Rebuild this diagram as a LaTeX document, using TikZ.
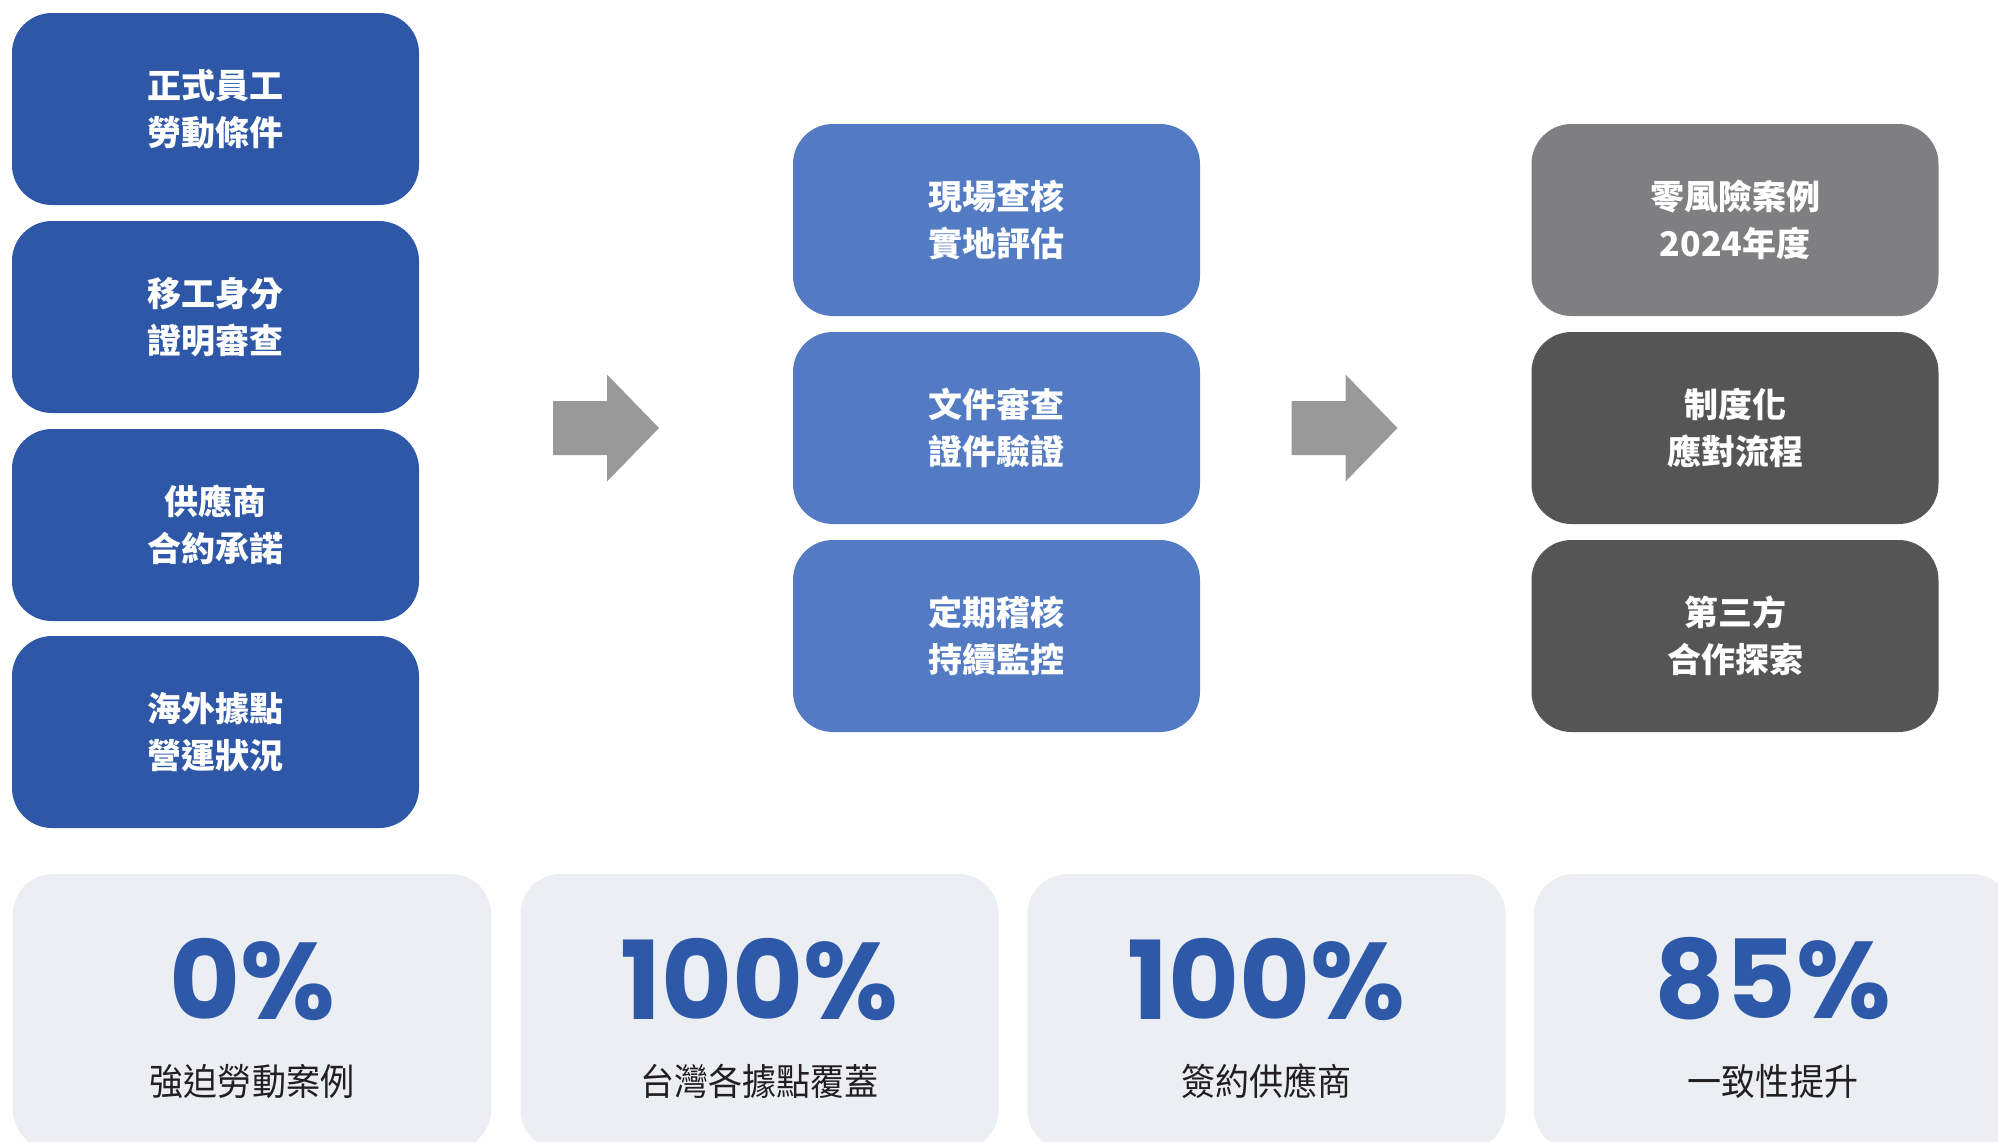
\documentclass[tikz,border=0pt]{standalone}
\usepackage{fontspec}
\newfontfamily\cjk{Noto Sans CJK TC}
\newfontfamily\cjknarrow{Noto Sans CJK TC}[FakeStretch=0.92]
\newfontfamily\pop{Poppins}
\definecolor{leftblue}{RGB}{46,88,167}
\definecolor{midblue}{RGB}{82,123,196}
\definecolor{lgray}{RGB}{127,126,128}
\definecolor{dgray}{RGB}{85,85,85}
\definecolor{arrowgray}{RGB}{153,153,153}
\definecolor{cardbg}{RGB}{235,239,243}
\definecolor{numblue}{RGB}{46,88,168}
\definecolor{labeltext}{RGB}{35,31,32}
\tikzset{
  stepbox/.style={rectangle, rounded corners=40pt, minimum width=407pt, minimum height=192pt,
    inner sep=0pt, align=center, text=white, font=\cjk\bfseries\fontsize{34}{47}\selectfont},
  leftbox/.style={stepbox, fill=leftblue},
  midbox/.style={stepbox, fill=midblue},
  topgray/.style={stepbox, fill=lgray},
  darkbox/.style={stepbox, fill=dgray},
  card/.style={rectangle, rounded corners=40pt, fill=cardbg, minimum width=478pt, minimum height=276pt, inner sep=0pt},
  bignum/.style={text=numblue, font=\pop\bfseries\fontsize{109}{109}\selectfont, inner sep=0pt},
  cardlabel/.style={text=labeltext, font=\cjknarrow\fontsize{37}{44}\selectfont, inner sep=0pt},
  blockarrow/.style={fill=arrowgray}
}
\begin{document}
\begin{tikzpicture}[x=1pt,y=-1pt]
\useasboundingbox (0,0) rectangle (1998,1141);
\fill[white] (0,0) rectangle (1998,1141);
\clip (0,0) rectangle (1998,1141);
% left column
\node[leftbox] (L1) at (215.5,109) {正式員工\\勞動條件};
\node[leftbox] (L2) at (215.5,317) {移工身分\\證明審查};
\node[leftbox] (L3) at (215.5,525) {供應商\\合約承諾};
\node[leftbox] (L4) at (215.5,732) {海外據點\\營運狀況};
% middle column
\node[midbox] (M1) at (996.5,220) {現場查核\\實地評估};
\node[midbox] (M2) at (996.5,428) {文件審查\\證件驗證};
\node[midbox] (M3) at (996.5,636) {定期稽核\\持續監控};
% right column
\node[topgray] (R1) at (1735,220) {零風險案例\\2024年度};
\node[darkbox] (R2) at (1735,428) {制度化\\應對流程};
\node[darkbox] (R3) at (1735,636) {第三方\\合作探索};
% block arrows
\coordinate (A1) at (606,428);
\coordinate (A2) at (1344.5,428);
\foreach \a in {A1,A2}{
  \fill[blockarrow] ([shift={(-53,-27)}]\a) -- ([shift={(1,-27)}]\a) -- ([shift={(1,-53.5)}]\a)
    -- ([shift={(53,0)}]\a) -- ([shift={(1,53.5)}]\a) -- ([shift={(1,27)}]\a)
    -- ([shift={(-53,27)}]\a) -- cycle;
}
% cards
\node[card] (C1) at (252,1012) {};
\node[card] (C2) at (759.5,1012) {};
\node[card] (C3) at (1266.5,1012) {};
\node[card] (C4) at (1773,1012) {};
\node[bignum] (N1) at (252,979) {0\%};
\node[bignum] (N2) at (759.5,979) {100\%};
\node[bignum] (N3) at (1266.5,979) {100\%};
\node[bignum] (N4) at (1773,979) {85\%};
\node[cardlabel] (T1) at (252,1081) {強迫勞動案例};
\node[cardlabel] (T2) at (759.5,1081) {台灣各據點覆蓋};
\node[cardlabel] (T3) at (1266.5,1081) {簽約供應商};
\node[cardlabel] (T4) at (1773,1081) {一致性提升};
\end{tikzpicture}
\end{document}
